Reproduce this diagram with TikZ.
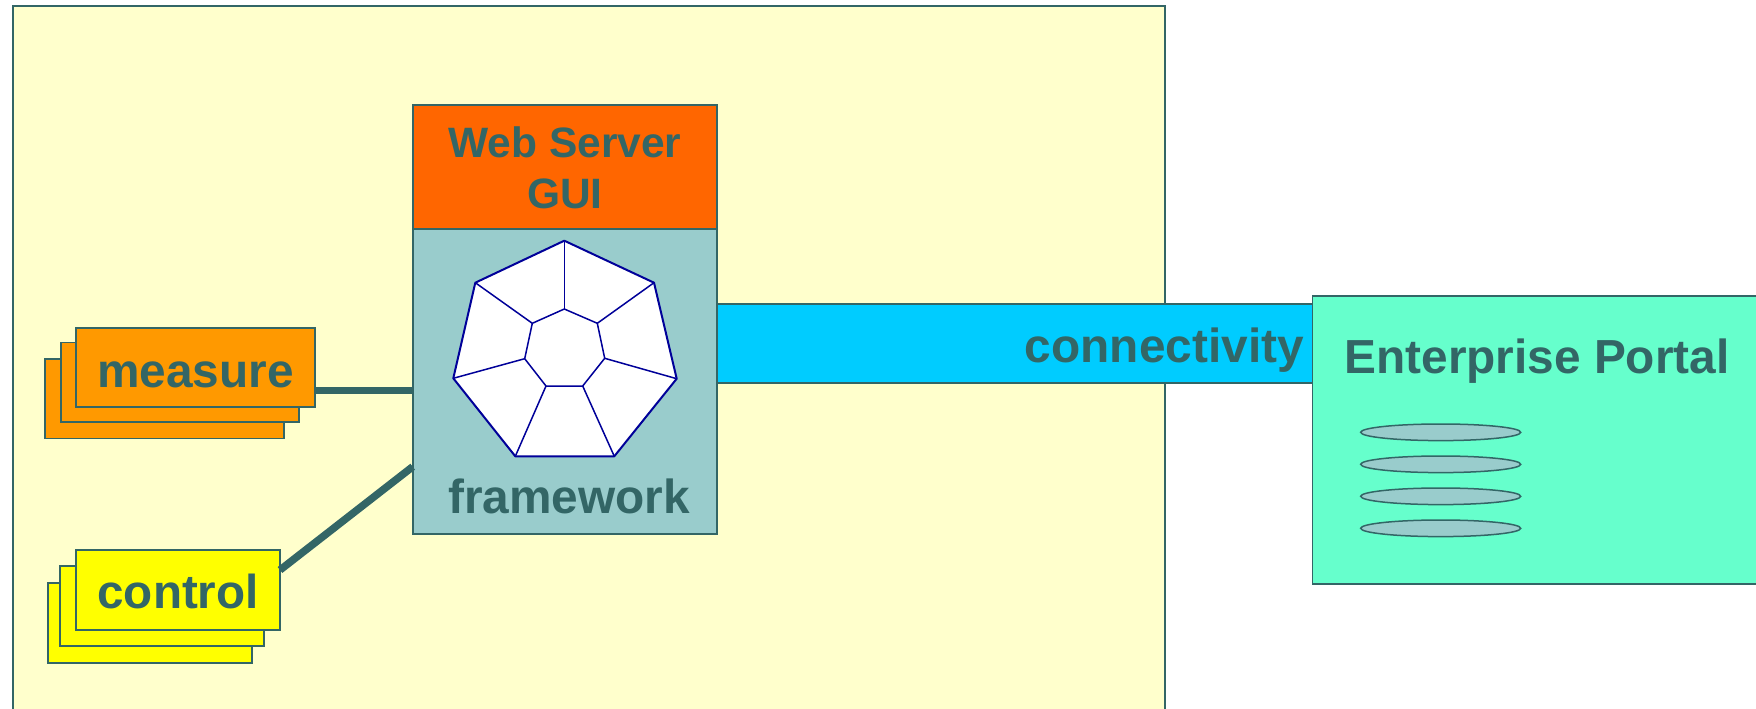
\documentclass[tikz,border=0pt]{standalone}
\usepackage{fontspec}
\setmainfont{Liberation Sans}
\usetikzlibrary{shapes.geometric}
\definecolor{ink}{HTML}{336666}
\definecolor{pale}{HTML}{FFFFCC}
\definecolor{teal}{HTML}{99CCCC}
\definecolor{sky}{HTML}{00CCFF}
\definecolor{mint}{HTML}{66FFCC}
\definecolor{webor}{HTML}{FF6600}
\definecolor{meas}{HTML}{FF9900}
\definecolor{ctrl}{HTML}{FFFF00}
\definecolor{hept}{HTML}{000099}
\newcommand{\fsz}[1]{\fontsize{#1}{#1}\selectfont\bfseries}
\tikzset{
  box/.style={draw=ink,line width=1.8pt,inner sep=0pt,outer sep=0pt,text=ink,rectangle},
  measurebox/.style={box,fill=meas,minimum width=238.7pt,minimum height=79.4pt},
  controlbox/.style={box,fill=ctrl,minimum height=79.7pt},
  lab/.style={text=ink,inner sep=0pt,anchor=base},
  link/.style={draw=ink,line width=7.5pt},
  disc/.style={ellipse,draw=ink,line width=1.5pt,fill=teal,minimum width=160pt,minimum height=16.6pt,inner sep=0pt},
  heptline/.style={draw=hept,line width=1.5pt,line join=round}
}
\begin{document}
\begin{tikzpicture}[x=1pt,y=-1pt]
\useasboundingbox (0,0) rectangle (1756,709);
\clip (0,0) rectangle (1756,709);
\fill[white] (0,0) rectangle (1756,709);
% outer area
\node[box,fill=pale,line width=2pt,minimum width=1152pt,minimum height=720pt] (area) at (589,366) {};
% stacks
\node[measurebox] (m3) at (164.3,398.85) {};
\node[measurebox] (m2) at (180,382.15) {};
\node[measurebox,text height=39pt,text depth=0pt,font=\fsz{47.8}] (m1) at (195.65,367.5) {measure};
\node[controlbox,minimum width=204pt] (c3) at (149.7,623) {};
\node[controlbox,minimum width=204pt] (c2) at (162.3,606.15) {};
\node[controlbox,minimum width=203.7pt,text height=36.4pt,text depth=0pt,font=\fsz{47.6}] (c1) at (178.15,590.15) {control};
% server stack
\node[box,fill=teal,minimum width=304.3pt,minimum height=305pt] (fw) at (564.85,381.8) {};
\node[box,fill=webor,minimum width=304.3pt,minimum height=124.3pt] (web) at (564.85,167.15) {};
\node[lab,font=\fsz{42.5}] (webt) at (565,157.7) {Web Server};
\node[lab,font=\fsz{42.5}] (gui) at (565,208.8) {GUI};
\node[lab,font=\fsz{47.8}] (fwt) at (569,513) {framework};
% connectors
\coordinate (mj) at (315,390.3);
\coordinate (cj) at (280,570);
\coordinate (fj) at (412.7,466.7);
\draw[link] (mj) -- (mj -| fw.west);
\draw[link] (cj) -- (fj);
% connectivity bar and portal
\node[box,fill=sky,minimum width=595.4pt,minimum height=78.7pt] (bar) at (1014.7,343.35) {};
\node[box,fill=mint,minimum width=460pt,minimum height=288.3pt] (portal) at (1542.4,439.85) {};
\node[lab,font=\fsz{47.8}] (con) at (1164.4,362) {connectivity};
\node[lab,font=\fsz{47.8}] (ept) at (1537,373.7) {Enterprise Portal};
\node[disc] (d1) at (1440.7,432.3) {};
\node[disc] (d2) at (1440.7,464.3) {};
\node[disc] (d3) at (1440.7,496.3) {};
\node[disc] (d4) at (1440.7,528.3) {};
% heptagon
\foreach \n/\p in {o1/{564.3,240.7},o2/{654,282.7},o3/{676.7,378.7},o4/{614.3,456.3},o5/{515.3,456.3},o6/{453.3,378.3},o7/{475.3,282.7},
  i1/{564.3,309},i2/{597.3,323.3},i3/{604.7,358.3},i4/{582.7,386},i5/{546,386},i6/{524.7,358.7},i7/{532.3,323.3}}
  {\coordinate (\n) at (\p);}
\draw[heptline,fill=white,line width=2pt] (o1)--(o2)--(o3)--(o4)--(o5)--(o6)--(o7)--cycle;
\draw[heptline] (i1)--(i2)--(i3)--(i4)--(i5)--(i6)--(i7)--cycle;
\foreach \k in {1,...,7}{\draw[heptline] (o\k)--(i\k);}
\end{tikzpicture}
\end{document}
